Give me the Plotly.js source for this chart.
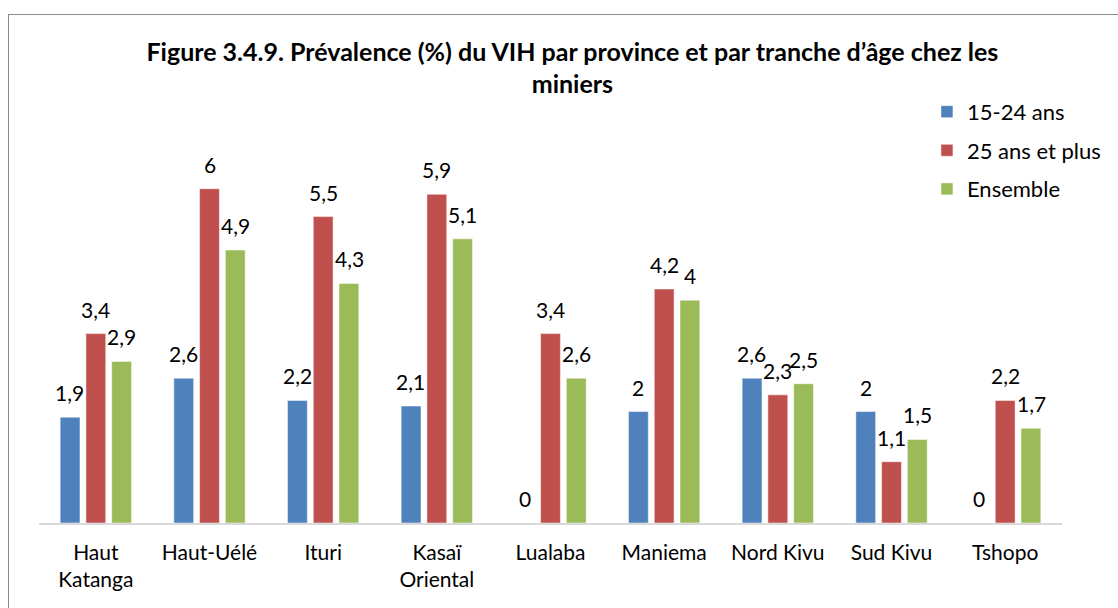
<!DOCTYPE html>
<html>
<head>
<meta charset="utf-8">
<script src="https://cdn.plot.ly/plotly-3.0.1.min.js"></script>
<style>
  body { margin: 0; background: #fff; }
  #frame { position: absolute; left: 8px; top: 14px; width: 1120px; height: 600px; border: 1px solid #8c8c8c; }
  #graph { position: absolute; left: 0; top: 0; width: 1118px; height: 608px; }
</style>
</head>
<body>
<div id="frame"></div>
<div id="graph"></div>
<script>
// Prévalence du VIH chez les miniers, par province
var provinces = ['Haut<br>Katanga', 'Haut-Uélé', 'Ituri', 'Kasaï<br>Oriental', 'Lualaba',
                 'Maniema', 'Nord Kivu', 'Sud Kivu', 'Tshopo'];
var jeunes = [1.9, 2.6, 2.2, 2.1, 0, 2, 2.6, 2, 0];        // 15-24 ans
var adultes = [3.4, 6, 5.5, 5.9, 3.4, 4.2, 2.3, 1.1, 2.2];  // 25 ans et plus
var ensemble = [2.9, 4.9, 4.3, 5.1, 2.6, 4, 2.5, 1.5, 1.7];
var seriesNames = ['15-24 ans', '25 ans et plus', 'Ensemble'];
var colors = ['#4f81bd', '#c0504d', '#9bbb59'];

var font = 'Lato, "Liberation Sans", sans-serif';

function fmt(v){
  return String(v).replace('.', ',');
}

var allSeries = [jeunes, adultes, ensemble];
var traces = [];
var annots = [];
var shift = [-26, 0, 26];

for(var s=0; s<3; s++){
  traces.push({
    type: 'bar',
    name: seriesNames[s],
    x: provinces,
    y: allSeries[s],
    legendgroup: 'g' + s,
    marker: {color: colors[s], line: {color: '#ffffff', width: 0.5}},
    hoverinfo: 'skip'
  });
  for(var i=0; i<provinces.length; i++){
    annots.push({
      x: provinces[i], y: allSeries[s][i],
      xref: 'x', yref: 'y',
      text: fmt(allSeries[s][i]),
      showarrow: false,
      xshift: shift[s], yshift: 10,
      yanchor: 'bottom',
      font: {family: font, size: 21, color: '#000'}
    });
  }
}

var layout = {
  width: 1118,
  height: 608,
  margin: {l: 39, r: 51, t: 133, b: 85},
  paper_bgcolor: 'rgba(0,0,0,0)',
  plot_bgcolor: 'rgba(0,0,0,0)',
  title: {
    text: '<b>Figure 3.4.9. Prévalence (%) du VIH par province et par tranche d’âge chez les<br>miniers</b>',
    font: {family: font, size: 25, color: '#000'},
    x: 0.512, xref: 'container',
    y: 0.90, yref: 'container', yanchor: 'top'
  },
  barmode: 'group',
  bargap: 0.32,
  bargroupgap: 0.23,
  xaxis: {
    showline: true, linecolor: '#d9d9d9', linewidth: 1.5,
    ticks: '', ticklabelstandoff: 10,
    tickfont: {family: font, size: 21, color: '#000'},
    fixedrange: true
  },
  yaxis: {
    range: [0, 7], visible: false, showgrid: false, zeroline: false, fixedrange: true
  },
  showlegend: true,
  legend: {
    x: 0.868, xanchor: 'left', y: 1.108, yanchor: 'top',
    traceorder: 'grouped', tracegroupgap: 7,
    font: {family: font, size: 22, color: '#000'},
    bgcolor: 'rgba(0,0,0,0)'
  },
  annotations: annots
};

Plotly.newPlot('graph', traces, layout, {displayModeBar: false, staticPlot: true});
</script>
</body>
</html>
